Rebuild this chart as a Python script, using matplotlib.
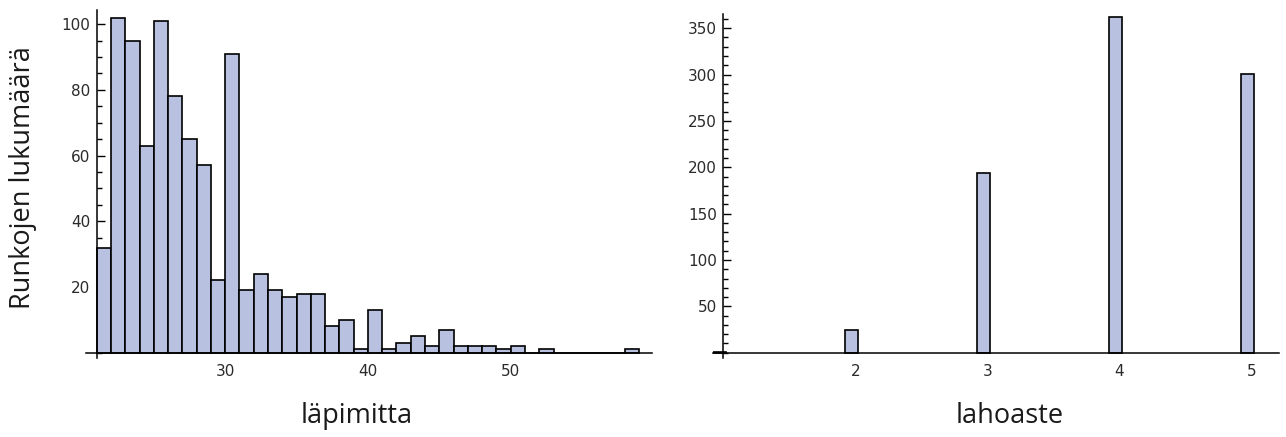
import matplotlib
matplotlib.use("Agg")
import matplotlib.pyplot as plt
from matplotlib.ticker import MultipleLocator
import numpy as np

# ---- data ----
# left histogram: diameter (läpimitta), unit-width bins starting at these values
diam_bin_left = list(range(21, 59))
diam_counts = [32, 102, 95, 63, 101, 78, 65, 57, 22, 91,
               19, 24, 19, 17, 18, 18, 8, 10, 1, 13,
               1, 3, 5, 2, 7, 2, 2, 2, 1, 2,
               0, 1, 0, 0, 0, 0, 0, 1]
diam_ticks = [30, 40, 50]
diam_yticks = [20, 40, 60, 80, 100]

# right histogram: decay class (lahoaste)
decay_classes = [1, 2, 3, 4, 5]
decay_counts = [1, 24, 194, 362, 301]
decay_ticks = [2, 3, 4, 5]
decay_yticks = [50, 100, 150, 200, 250, 300, 350]

ylabel_text = "Runkojen lukumäärä"
xlabel_left = "läpimitta"
xlabel_right = "lahoaste"

# ---- style ----
W, H = 1286, 437
bar_face = "#B8C2E0"
tick_color = "#2a2a2a"
label_font = ["Open Sans", "DejaVu Sans"]

fig = plt.figure(figsize=(W / 100, H / 100), dpi=100)


def px_axes(left, right, top, bottom):
    return [left / W, (H - bottom) / H, (right - left) / W, (bottom - top) / H]


def style_axes(ax, x0):
    for s in ("top", "right"):
        ax.spines[s].set_visible(False)
    ax.spines["left"].set_position(("data", x0))
    ax.spines["bottom"].set_position(("data", 0))
    for s in ("left", "bottom"):
        ax.spines[s].set_linewidth(1.1)
        ax.spines[s].set_color("black")
        ax.spines[s].set_zorder(3)
    ax.tick_params(axis="y", which="major", direction="in", length=5.8, width=1.0,
                   color="black", labelsize=11, labelcolor=tick_color, pad=4.5)
    ax.tick_params(axis="y", which="minor", direction="in", length=3.6, width=1.0,
                   color="black")
    ax.tick_params(axis="x", which="both", length=0, labelsize=11,
                   labelcolor=tick_color, pad=8)
    ax.set_facecolor("none")


# left chart
ax1 = fig.add_axes(px_axes(86, 652, 10, 358))
ax1.bar(diam_bin_left, diam_counts, width=1.0, align="edge",
        color=bar_face, edgecolor="black", linewidth=1.2, zorder=2)
ax1.set_xlim(20.25, 59.9)
ax1.set_ylim(-1.6, 104.3)
style_axes(ax1, 21)
ax1.set_xticks(diam_ticks)
ax1.set_yticks(diam_yticks)
ax1.yaxis.set_minor_locator(MultipleLocator(5))

# right chart
ax2 = fig.add_axes(px_axes(712.7, 1279, 14.3, 358.3))
ax2.bar(np.array(decay_classes) - 0.08, decay_counts, width=0.1, align="edge",
        color=bar_face, edgecolor="black", linewidth=1.2, zorder=2)
ax2.set_xlim(0.92, 5.21)
ax2.set_ylim(-6, 365)
style_axes(ax2, 1.0)
ax2.set_xticks(decay_ticks)
ax2.set_yticks(decay_yticks)
ax2.yaxis.set_minor_locator(MultipleLocator(10))

# axis titles
fig.text(23 / W, 1 - 178 / H, ylabel_text, rotation=90, ha="center", va="center",
         fontsize=19.5, family=label_font, color="#1a1a1a")
fig.text(357 / W, 1 - 416 / H, xlabel_left, ha="center", va="center",
         fontsize=19.5, family=label_font, color="#1a1a1a")
fig.text(1010 / W, 1 - 416 / H, xlabel_right, ha="center", va="center",
         fontsize=19.5, family=label_font, color="#1a1a1a")

fig.savefig("out.png", dpi=100)
